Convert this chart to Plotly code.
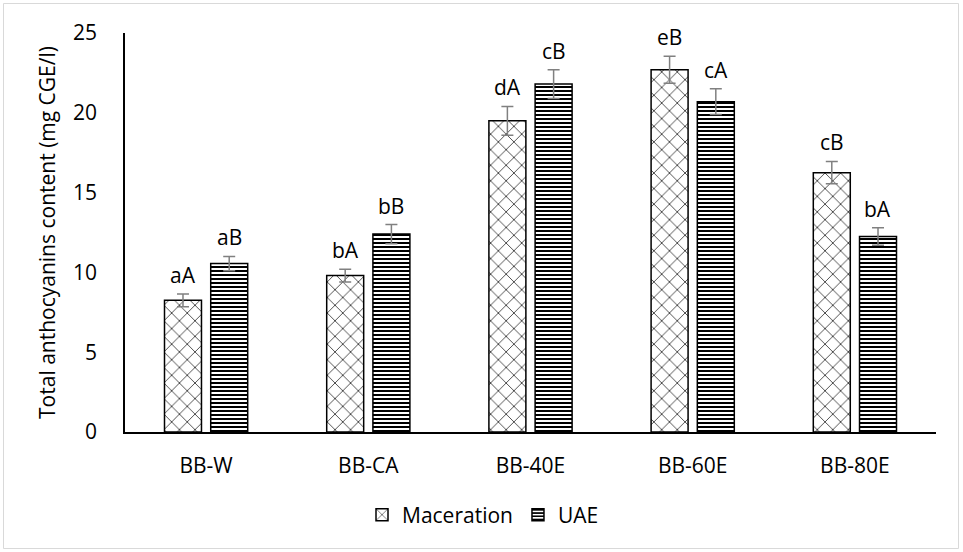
import plotly.graph_objects as go

categories = ["BB-W", "BB-CA", "BB-40E", "BB-60E", "BB-80E"]
mac_vals = [8.25, 9.8, 19.5, 22.7, 16.25]
mac_err = [0.4, 0.4, 0.9, 0.85, 0.7]
mac_labels = ["aA", "bA", "dA", "eB", "cB"]
uae_vals = [10.55, 12.4, 21.8, 20.7, 12.25]
uae_err = [0.45, 0.6, 0.9, 0.8, 0.55]
uae_labels = ["aB", "bB", "cB", "cA", "bA"]

FONT = "Open Sans"
FS = 21
fig = go.Figure()
fig.add_trace(go.Bar(
    name="Maceration", x=categories, y=mac_vals,
    marker=dict(color="white", line=dict(color="black", width=1.5),
                pattern=dict(shape="x", size=11, solidity=0.12, fgcolor="black", bgcolor="white", fillmode="replace")),
    error_y=dict(type="data", array=mac_err, color="#808080", thickness=1.5, width=6),
))
fig.add_trace(go.Bar(
    name="UAE", x=categories, y=uae_vals,
    marker=dict(color="white", line=dict(color="black", width=1.5),
                pattern=dict(shape="-", size=4, solidity=0.5, fgcolor="black", bgcolor="white", fillmode="replace")),
    error_y=dict(type="data", array=uae_err, color="#808080", thickness=1.5, width=6),
))

for cat, v, e, lab in zip(categories, mac_vals, mac_err, mac_labels):
    fig.add_annotation(x=cat, y=v + e, text=lab, showarrow=False, xshift=-23, yshift=3,
                       yanchor="bottom", font=dict(size=FS, color="black", family=FONT))
for cat, v, e, lab in zip(categories, uae_vals, uae_err, uae_labels):
    fig.add_annotation(x=cat, y=v + e, text=lab, showarrow=False, xshift=23, yshift=3,
                       yanchor="bottom", font=dict(size=FS, color="black", family=FONT))

L, R, T, B = 125, 27, 33, 120
W, H = 963, 552
pw, ph = W - L - R, H - T - B
def px(x): return (x - L) / pw
def py(y): return (H - B - y) / ph
fig.add_shape(type="rect", xref="paper", yref="paper", x0=px(3.5), x1=px(958.5), y0=py(3.5), y1=py(548.5),
              line=dict(color="#d9d9d9", width=1), layer="below")

fig.update_layout(
    width=W, height=H, margin=dict(l=L, r=R, t=T, b=B, autoexpand=False),
    paper_bgcolor="white", plot_bgcolor="white",
    barmode="group", bargap=0.43, bargroupgap=0.2,
    font=dict(family=FONT, size=FS, color="black"),
    showlegend=True,
    legend=dict(orientation="h", x=px(483), xanchor="center", y=py(515), yanchor="middle",
                font=dict(size=FS, family=FONT), itemwidth=30, tracegroupgap=0),
    yaxis=dict(range=[0, 25], dtick=5, showgrid=False, showline=True, linecolor="black", linewidth=1.5,
               ticks="", tickfont=dict(size=FS), ticklabelstandoff=22, zeroline=False,
               title=dict(text="Total anthocyanins content (mg CGE/l)", font=dict(size=FS), standoff=12)),
    xaxis=dict(showline=True, linecolor="black", linewidth=1.5, ticks="", tickfont=dict(size=FS),
               ticklabelstandoff=14),
)
fig.write_html("out.html", config={"displayModeBar": False},
               post_script="document.body.style.margin='0px';")
